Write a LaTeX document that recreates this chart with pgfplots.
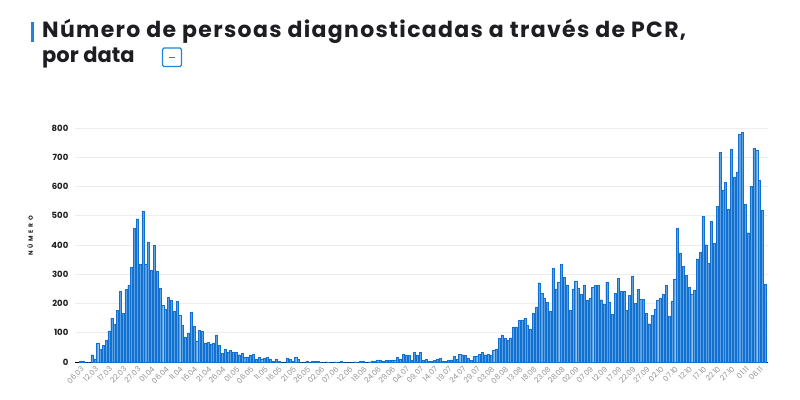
\documentclass[border=0pt]{standalone}
\usepackage{fontspec}
\setmainfont{Poppins}
\usepackage{pgfplots}
\pgfplotsset{compat=1.18}
\definecolor{barfill}{RGB}{92,162,226}
\definecolor{baredge}{RGB}{18,112,208}
\definecolor{titlecol}{RGB}{30,30,34}
\definecolor{accent}{RGB}{28,132,218}
\definecolor{ticklab}{RGB}{145,145,145}
\begin{document}
\begin{tikzpicture}
\path[use as bounding box] (0pt,0pt) rectangle (800pt,399pt);
\fill[accent] (30.5pt,357pt) rectangle (33.5pt,377pt);
\node[anchor=base west, font=\bfseries\fontsize{22}{22}\selectfont\addfontfeatures{LetterSpace=6}, text=titlecol, inner sep=0pt] at (42pt,361pt) {Número de persoas diagnosticadas a través de PCR,};
\node[anchor=base west, font=\bfseries\fontsize{21}{21}\selectfont, text=titlecol, inner sep=0pt] at (42pt,336pt) {por data};
\draw[accent, line width=1.2pt, rounded corners=1.5pt] (162.5pt,332.5pt) rectangle (181.5pt,351pt);
\draw[accent, line width=0.9pt] (169pt,341.8pt) -- (175pt,341.8pt);
\node[rotate=90, font=\bfseries\fontsize{6}{6}\selectfont\addfontfeatures{LetterSpace=45}, text=titlecol] at (30pt,163pt) {NÚMERO};
\begin{axis}[
  at={(75pt,37pt)}, anchor=south west, scale only axis,
  width=693pt, height=234pt,
  xmin=-2, xmax=243, ymin=0, ymax=800,
  axis x line=bottom, axis y line=left,
  y axis line style={draw=none},
  x axis line style={-, black, line width=1pt},
  tick style={draw=none},
  ytick={0,100,...,800},
  ymajorgrids, grid style={line width=1pt, black!7},
  yticklabel style={font=\bfseries\fontsize{8.5}{8.5}\selectfont, text=titlecol, xshift=-1pt},
  /pgf/number format/assume math mode=true,
  xtick={0,5,...,240},
  xticklabels={06.03,12.03,17.03,22.03,27.03,01.04,06.04,11.04,16.04,21.04,26.04,01.05,06.05,11.05,16.05,21.05,26.05,02.06,07.06,12.06,18.06,24.06,29.06,04.07,09.07,14.07,19.07,24.07,29.07,03.08,08.08,13.08,18.08,23.08,28.08,02.09,07.09,12.09,17.09,22.09,27.09,02.10,07.10,12.10,17.10,22.10,27.10,01.11,06.11},
  xticklabel style={rotate=45, anchor=north east, font=\fontsize{7.5}{7.5}\selectfont, text=ticklab, inner sep=1pt},
  clip=false,
]
\addplot[ybar, bar width=2.1pt, fill=barfill, draw=baredge, line width=0.35pt] table[row sep=\\, x expr=\coordindex, y=v] {
v\\ 4\\ 4\\ 0\\ 0\\ 25\\ 11\\ 63\\ 43\\ 58\\ 73\\
106\\ 151\\ 128\\ 177\\ 242\\ 166\\ 248\\ 262\\ 325\\ 456\\
490\\ 334\\ 517\\ 334\\ 408\\ 314\\ 399\\ 311\\ 251\\ 194\\
179\\ 222\\ 210\\ 175\\ 208\\ 159\\ 126\\ 86\\ 97\\ 170\\
121\\ 70\\ 109\\ 105\\ 64\\ 67\\ 61\\ 65\\ 93\\ 57\\
30\\ 45\\ 35\\ 41\\ 35\\ 32\\ 25\\ 29\\ 16\\ 17\\
24\\ 27\\ 8\\ 15\\ 8\\ 13\\ 15\\ 11\\ 2\\ 11\\
3\\ 0\\ 0\\ 14\\ 9\\ 2\\ 17\\ 10\\ 0\\ 0\\
4\\ 0\\ 3\\ 3\\ 3\\ 0\\ 0\\ 1\\ 0\\ 0\\
1\\ 0\\ 3\\ 0\\ 0\\ 0\\ 0\\ 1\\ 0\\ 2\\
2\\ 0\\ 1\\ 4\\ 2\\ 7\\ 7\\ 2\\ 6\\ 5\\
7\\ 6\\ 16\\ 9\\ 28\\ 24\\ 23\\ 5\\ 33\\ 24\\
32\\ 5\\ 8\\ 3\\ 3\\ 5\\ 8\\ 12\\ 4\\ 2\\
5\\ 7\\ 19\\ 9\\ 27\\ 25\\ 24\\ 12\\ 6\\ 20\\
20\\ 27\\ 34\\ 25\\ 28\\ 24\\ 40\\ 45\\ 80\\ 93\\
80\\ 76\\ 83\\ 120\\ 120\\ 142\\ 143\\ 149\\ 126\\ 111\\
168\\ 187\\ 271\\ 234\\ 219\\ 203\\ 173\\ 320\\ 248\\ 273\\
335\\ 289\\ 264\\ 177\\ 250\\ 275\\ 251\\ 233\\ 264\\ 210\\
219\\ 257\\ 263\\ 263\\ 213\\ 199\\ 273\\ 205\\ 162\\ 234\\
287\\ 242\\ 241\\ 176\\ 227\\ 293\\ 201\\ 249\\ 214\\ 214\\
167\\ 131\\ 160\\ 179\\ 210\\ 219\\ 232\\ 262\\ 155\\ 208\\
283\\ 458\\ 373\\ 327\\ 296\\ 256\\ 231\\ 247\\ 353\\ 376\\
498\\ 401\\ 338\\ 482\\ 405\\ 533\\ 717\\ 586\\ 615\\ 521\\
726\\ 633\\ 650\\ 779\\ 785\\ 538\\ 442\\ 601\\ 731\\ 723\\
622\\ 520\\ 267\\
};
\end{axis}
\end{tikzpicture}
\end{document}
